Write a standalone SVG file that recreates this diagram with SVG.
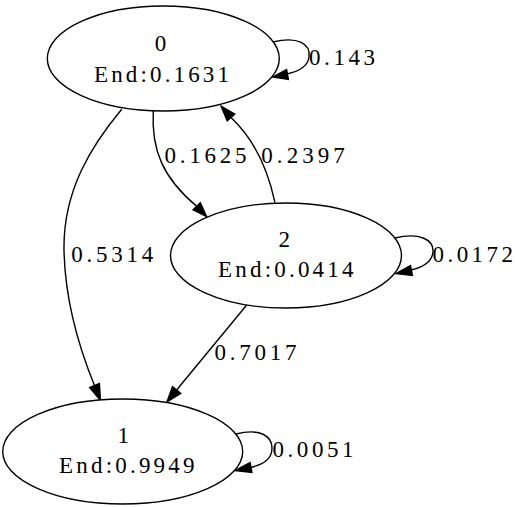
<svg xmlns="http://www.w3.org/2000/svg" width="515" height="507" viewBox="0 0 515 507">
<style>
.node ellipse{fill:#fff;stroke:#000;stroke-width:1.4}
text{font-family:"Liberation Serif","Times New Roman",serif;font-size:23px;fill:#000}
.edge path{fill:none;stroke:#000;stroke-width:1.4}
.edge polygon{fill:#000;stroke:#000;stroke-width:1.4}
</style>
<rect width="515" height="507" fill="#fff"/>
<g id="connectors">
  <g class="edge" id="e0_0">
    <path d="M273,42 C298,36 311,44 309,57 C308,66 300,71 287,74"/>
    <polygon points="273,77 288.4,79.4 286.6,69.6"/>
    <text x="309" y="65" textLength="66" lengthAdjust="spacing">0.143</text>
  </g>
  <g class="edge" id="e0_2">
    <path d="M153.3,110.7 C151,150 163,178 196.7,206.3"/>
    <polygon points="206.7,216.7 193.1,209.8 200.3,202.8"/>
    <text x="164.5" y="163.3" textLength="82" lengthAdjust="spacing">0.1625</text>
  </g>
  <g class="edge" id="e2_0">
    <path d="M275,202.7 C268,170 255,140 231,117.5"/>
    <polygon points="221,106 234.8,114.2 227.2,120.8"/>
    <text x="261.3" y="163.3" textLength="83.5" lengthAdjust="spacing">0.2397</text>
  </g>
  <g class="edge" id="e0_1">
    <path d="M121.7,109.3 C92,145 63,190 64,250 C65,300 80,350 94.5,385.5"/>
    <polygon points="100.5,400.5 99.4,383.5 89.6,387.6"/>
    <text x="71.3" y="261.7" textLength="82" lengthAdjust="spacing">0.5314</text>
  </g>
  <g class="edge" id="e2_2">
    <path d="M395,238 C420,232 434,240 433,252 C432,262 424,267 411,270"/>
    <polygon points="396,273.5 412.4,275.4 410.5,265.6"/>
    <text x="432.5" y="261.7" textLength="80.5" lengthAdjust="spacing">0.0172</text>
  </g>
  <g class="edge" id="e2_1">
    <path d="M246.7,305 L176.6,390"/>
    <polygon points="167,401.8 180.7,393.4 172.5,386.6"/>
    <text x="214.6" y="360" textLength="82" lengthAdjust="spacing">0.7017</text>
  </g>
  <g class="edge" id="e1_1">
    <path d="M236,434 C260,428 272,436 272,448 C272,459 264,464 251,467.5"/>
    <polygon points="235,470.5 251.9,472.4 250.1,462.6"/>
    <text x="272.5" y="456.7" textLength="81" lengthAdjust="spacing">0.0051</text>
  </g>
</g>
<g class="node" id="node0">
  <ellipse cx="163.3" cy="58.5" rx="116" ry="52.5"/>
  <text x="160.5" y="50.7" text-anchor="middle">0</text>
  <text x="94" y="81.7" textLength="135" lengthAdjust="spacing">End:0.1631</text>
</g>
<g class="node" id="node2">
  <ellipse cx="286" cy="255.5" rx="115.5" ry="52.5"/>
  <text x="284.2" y="246.7" text-anchor="middle">2</text>
  <text x="218" y="276.7" textLength="135.5" lengthAdjust="spacing">End:0.0414</text>
</g>
<g class="node" id="node1">
  <ellipse cx="122.7" cy="451.5" rx="120" ry="52.5"/>
  <text x="123.3" y="443.3" text-anchor="middle">1</text>
  <text x="59" y="473.3" textLength="135.5" lengthAdjust="spacing">End:0.9949</text>
</g>
</svg>
